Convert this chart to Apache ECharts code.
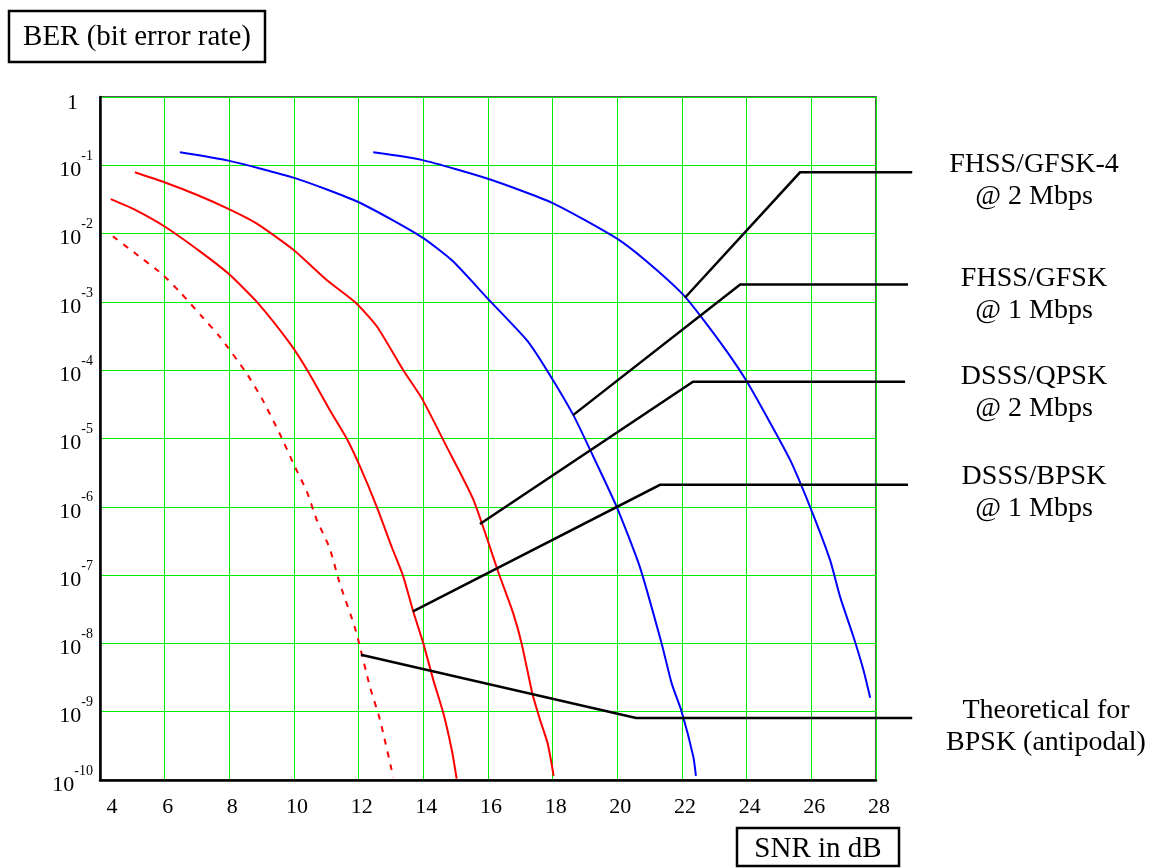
<!DOCTYPE html>
<html><head><meta charset="utf-8">
<script src="https://cdn.jsdelivr.net/npm/echarts@6/dist/echarts.min.js"></script>
<style>html,body{margin:0;padding:0;background:#fff}#c{width:1152px;height:868px}</style>
</head><body><div id="c"></div>
<script>
// ---- data ----
const xTicks = [4, 6, 8, 10, 12, 14, 16, 18, 20, 22, 24, 26, 28];
const yAxisTitle = 'BER (bit error rate)';
const xAxisTitle = 'SNR in dB';

// Theoretical for BPSK (antipodal) - dashed red
const theoSnr = [4.4, 5.1, 5.9, 6.5, 7.1, 7.7, 8.5, 9.0, 9.6, 10.0, 10.4, 10.7, 11.1, 11.4, 11.9, 12.35, 12.66, 13.07];
const theoBer = [9.1e-3, 5.1e-3, 2.6e-3, 1.35e-3, 6.5e-4, 3.1e-4, 9.5e-5, 3.9e-5, 1.07e-5, 4.1e-6, 1.66e-6, 6.5e-7, 2.5e-7, 8e-8, 1.6e-8, 2.3e-9, 7.6e-10, 1.1e-10];

// DSSS/BPSK @ 1 Mbps - red
const bpskSnr = [4.33, 5.03, 6.01, 7.09, 7.97, 8.85, 9.88, 10.44, 11.11, 11.63, 12.04, 12.56, 13.02, 13.38, 13.69, 14.0, 14.31, 14.62, 14.88, 15.03];
const bpskBer = [3.2e-2, 2.3e-2, 1.26e-2, 5.5e-3, 2.6e-3, 1.0e-3, 2.45e-4, 9.5e-5, 2.6e-5, 1.0e-5, 3.9e-6, 1.0e-6, 2.6e-7, 9.5e-8, 2.9e-8, 1.0e-8, 2.9e-9, 9.5e-10, 2.75e-10, 1.05e-10];

// DSSS/QPSK @ 2 Mbps - red
const qpskSnr = [5.08, 6.01, 6.99, 7.97, 8.85, 9.98, 11.01, 11.9, 12.56, 13.38, 13.95, 14.72, 15.55, 16.32, 16.78, 17.04, 17.37, 17.61, 17.84, 18.03];
const qpskBer = [7.9e-2, 5.6e-2, 3.7e-2, 2.3e-2, 1.4e-2, 5.8e-3, 2.1e-3, 9.8e-4, 4.4e-4, 1.0e-4, 3.9e-5, 7.6e-6, 1.26e-6, 1.1e-7, 2.75e-8, 1.0e-8, 1.86e-9, 7.6e-10, 3.5e-10, 1.15e-10];

// FHSS/GFSK @ 1 Mbps - blue
const gfskSnr = [6.47, 7.97, 10.03, 11.99, 13.95, 14.9, 16.03, 17.2, 17.85, 18.64, 19.16, 19.98, 20.7, 21.37, 21.68, 21.99, 22.35, 22.43];
const gfskBer = [0.155, 0.117, 6.5e-2, 2.9e-2, 8.9e-3, 4.0e-3, 1.07e-3, 2.75e-4, 9.5e-5, 2.2e-5, 6.8e-6, 1.0e-6, 1.3e-7, 1.0e-8, 2.6e-9, 1.0e-9, 2.2e-10, 1.15e-10];

// FHSS/GFSK-4 @ 2 Mbps - blue
const gfsk4Snr = [12.45, 13.95, 16.02, 18.0, 19.98, 20.91, 22.02, 22.61, 23.38, 24.0, 24.62, 25.34, 25.96, 26.58, 26.89, 27.3, 27.61, 27.82];
const gfsk4Ber = [0.155, 0.12, 6.3e-2, 2.8e-2, 8.5e-3, 3.9e-3, 1.3e-3, 5.9e-4, 1.9e-4, 6.9e-5, 2.1e-5, 4.9e-6, 1.0e-6, 1.66e-7, 4.8e-8, 1.26e-8, 4.1e-9, 1.6e-9];

// leader lines (curve point -> elbow -> right end), in data units
const leaderGfsk4Snr = [22.09, 25.65, 29.12]; const leaderGfsk4Ber = [1.15e-3, 7.9e-2, 7.9e-2];
const leaderGfskSnr  = [18.63, 23.80, 28.99]; const leaderGfskBer  = [2.2e-5, 1.8e-3, 1.8e-3];
const leaderQpskSnr  = [15.75, 22.34, 28.90]; const leaderQpskBer  = [5.6e-7, 6.8e-5, 6.8e-5];
const leaderBpskSnr  = [13.68, 21.32, 28.99]; const leaderBpskBer  = [2.95e-8, 2.1e-6, 2.1e-6];
const leaderTheoSnr  = [12.07, 20.58, 29.12]; const leaderTheoBer  = [6.8e-9, 8.1e-10, 8.1e-10];

const labelGfsk4 = ['FHSS/GFSK-4', '@ 2 Mbps'];
const labelGfsk  = ['FHSS/GFSK', '@ 1 Mbps'];
const labelQpsk  = ['DSSS/QPSK', '@ 2 Mbps'];
const labelBpsk  = ['DSSS/BPSK', '@ 1 Mbps'];
const labelTheo  = ['Theoretical for', 'BPSK (antipodal)'];

// ---- chart ----
const SERIF = '"Liberation Serif", "Times New Roman", serif';
const GRID_GREEN = '#00ee00';
const zip = (xs, ys) => xs.map((x, i) => [x, ys[i]]);
const chart = echarts.init(document.getElementById('c'), null, {renderer: 'canvas'});

function curve(name, xs, ys, color, dashed) {
  return {
    name, type: 'line', data: zip(xs, ys), symbol: 'none', z: 3,
    smooth: 0.2,
    lineStyle: {color, width: 2, type: dashed ? [6, 7] : 'solid'}
  };
}
function annot(lines, x, y) {
  return {
    type: 'text', x, y, z: 10,
    style: {text: lines.join('\n'), font: '28px ' + SERIF, fill: '#000',
            align: 'center', verticalAlign: 'middle', lineHeight: 32}
  };
}

const option = {
  animation: false,
  backgroundColor: '#fff',
  grid: {left: 100, top: 97, right: 276, bottom: 88, show: true,
         borderColor: '#222', borderWidth: 1.5, backgroundColor: 'transparent'},
  xAxis: {
    type: 'value', min: xTicks[0], max: xTicks[xTicks.length - 1], interval: 2,
    axisLine: {show: true, onZero: false, lineStyle: {color: '#000', width: 2.5}},
    axisTick: {show: false},
    splitLine: {show: true, lineStyle: {color: GRID_GREEN, width: 1}},
    axisLabel: {
      margin: 16, color: '#000', fontFamily: SERIF, fontSize: 22,
      formatter: v => v === xTicks[0] ? '{a|' + v + '}' : '{n|' + v + '}',
      rich: {a: {fontFamily: SERIF, fontSize: 22, padding: [0, 0, 0, 24]},
             n: {fontFamily: SERIF, fontSize: 22, padding: [0, 0, 0, 6]}}
    }
  },
  yAxis: {
    type: 'log', logBase: 10, min: 1e-10, max: 1, interval: 1,
    axisLine: {show: true, onZero: false, lineStyle: {color: '#000', width: 2.5}},
    axisTick: {show: false},
    splitLine: {show: true, lineStyle: {color: GRID_GREEN, width: 1}},
    axisLabel: {
      margin: 7, color: '#000',
      formatter: v => {
        const e = Math.round(Math.log10(v));
        if (e === 0) return '{one|1}';
        return '{b|10}{s|' + e + '}';
      },
      rich: {
        one: {fontFamily: SERIF, fontSize: 22, padding: [12, 15, 0, 0]},
        b: {fontFamily: SERIF, fontSize: 22, padding: [10, 0, 0, 0]},
        s: {fontFamily: SERIF, fontSize: 14, verticalAlign: 'top'}
      }
    }
  },
  series: [
    curve('Theoretical for BPSK (antipodal)', theoSnr, theoBer, '#ff0000', true),
    curve('DSSS/BPSK @ 1 Mbps', bpskSnr, bpskBer, '#ff0000', false),
    curve('DSSS/QPSK @ 2 Mbps', qpskSnr, qpskBer, '#ff0000', false),
    curve('FHSS/GFSK @ 1 Mbps', gfskSnr, gfskBer, '#0000ff', false),
    curve('FHSS/GFSK-4 @ 2 Mbps', gfsk4Snr, gfsk4Ber, '#0000ff', false)
  ]
};
chart.setOption(option);

// leader lines: mapped through the chart's own axes, drawn past the plot edge
function leaderLine(xs, ys) {
  const pts = zip(xs, ys).map(p => chart.convertToPixel({gridIndex: 0}, p));
  return {type: 'polyline', z: 20, shape: {points: pts},
          style: {stroke: '#000', lineWidth: 2.5, fill: null}};
}
chart.setOption({
  graphic: [
    {type: 'rect', shape: {x: 9, y: 11, width: 256, height: 51},
     style: {fill: '#fff', stroke: '#000', lineWidth: 2.5}},
    {type: 'text', x: 137, y: 37,
     style: {text: yAxisTitle, font: '29px ' + SERIF, fill: '#000', align: 'center', verticalAlign: 'middle'}},
    {type: 'rect', shape: {x: 737, y: 828, width: 162, height: 38},
     style: {fill: '#fff', stroke: '#000', lineWidth: 2.5}},
    {type: 'text', x: 818, y: 849,
     style: {text: xAxisTitle, font: '29px ' + SERIF, fill: '#000', align: 'center', verticalAlign: 'middle'}},
    leaderLine(leaderGfsk4Snr, leaderGfsk4Ber),
    leaderLine(leaderGfskSnr, leaderGfskBer),
    leaderLine(leaderQpskSnr, leaderQpskBer),
    leaderLine(leaderBpskSnr, leaderBpskBer),
    leaderLine(leaderTheoSnr, leaderTheoBer),
    annot(labelGfsk4, 1034, 181),
    annot(labelGfsk, 1034, 295),
    annot(labelQpsk, 1034, 393),
    annot(labelBpsk, 1034, 493),
    annot(labelTheo, 1046, 727)
  ]
});
</script></body></html>
